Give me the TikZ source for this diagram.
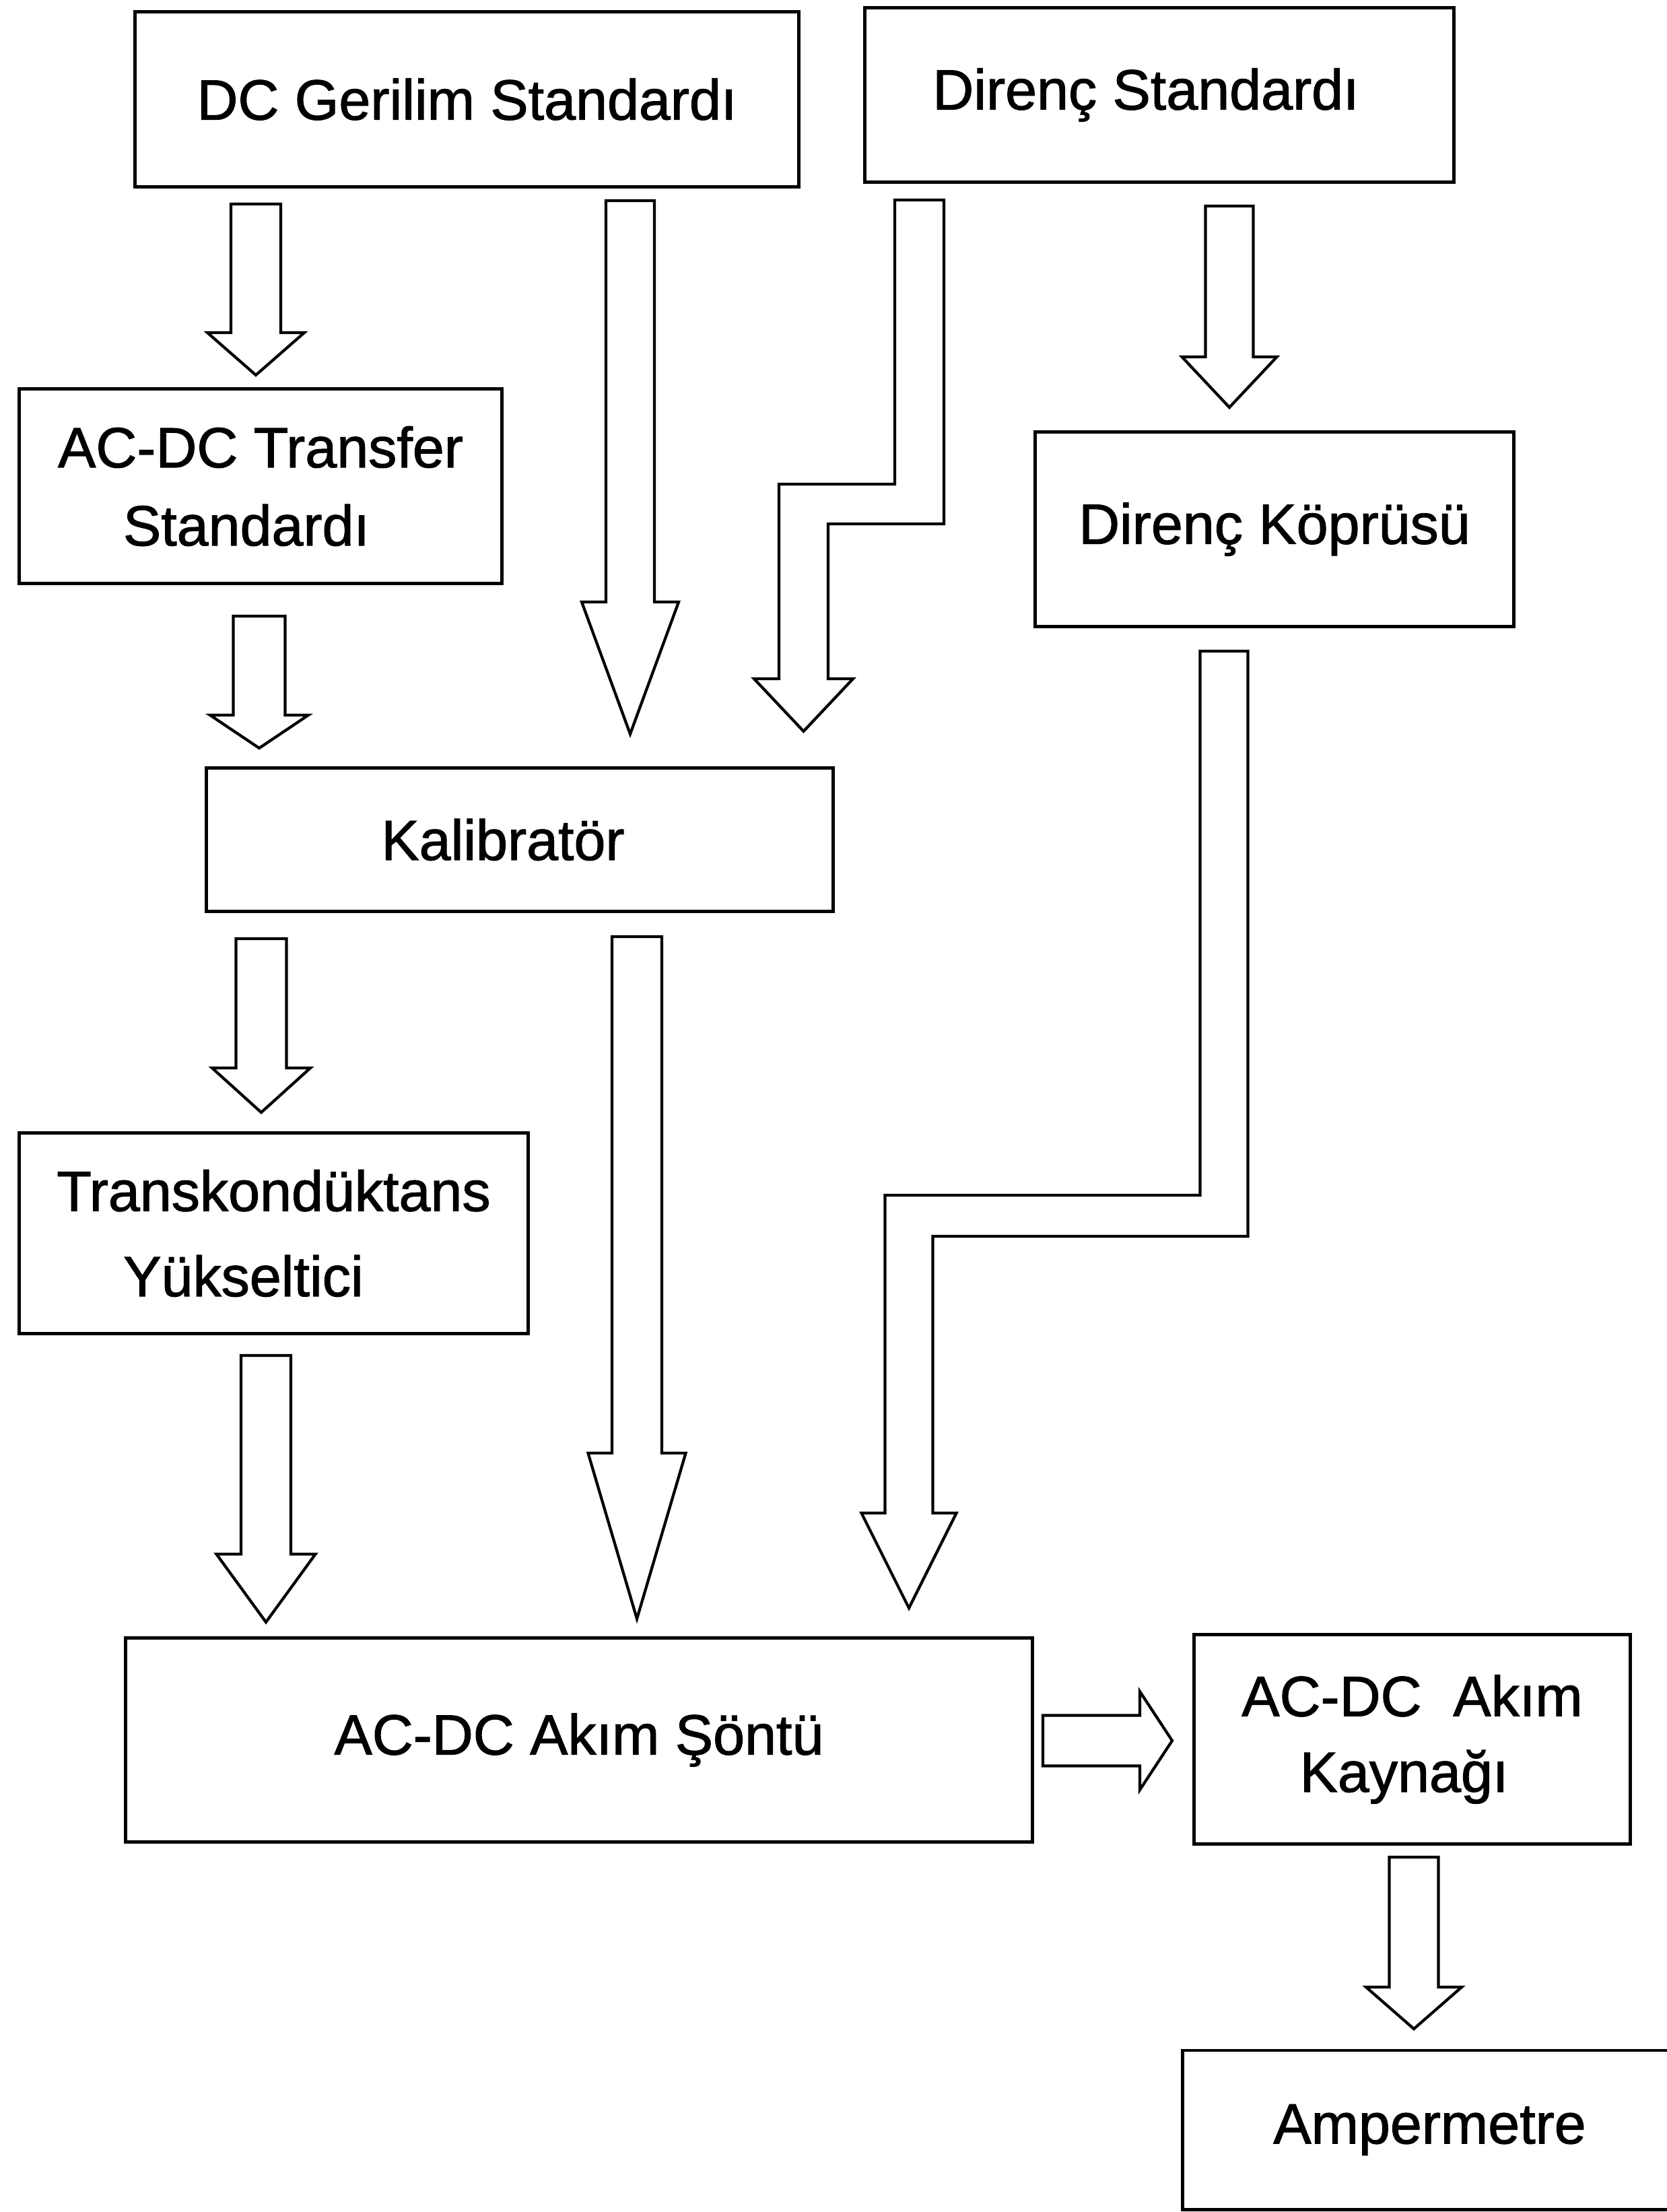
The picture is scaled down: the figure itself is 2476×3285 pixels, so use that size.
\documentclass[tikz,border=0pt]{standalone}
\usepackage{fontspec}
\setmainfont{Liberation Sans}[FakeBold=1.3]
\usetikzlibrary{calc}
\tikzset{
  box/.style={draw, line width=1.4pt, inner sep=0pt, align=center,
    font=\fontsize{24}{33}\selectfont},
  arr/.style={draw, line width=1.2pt, line join=miter, fill=white}
}
% straight block arrow pointing down: #1 start, #2 tip, #3 shaft half width, #4 head half width, #5 head length
\newcommand\blockdown[5]{%
  \draw[arr] let \p1=(#1), \p2=(#2) in
    (\x1-#3,\y1) -- (\x1+#3,\y1) -- (\x1+#3,\y2+#5) -- (\x1+#4,\y2+#5) -- (\x2,\y2)
    -- (\x1-#4,\y2+#5) -- (\x1-#3,\y2+#5) -- cycle;}
% stepped block arrow: #1 start, #2 jog, #3 tip, #4 shaft half width, #5 head half width, #6 head length, #7 jog half height
\newcommand\blockstep[7]{%
  \draw[arr] let \p1=(#1), \p2=(#2), \p3=(#3) in
    (\x1-#4,\y1) -- (\x1+#4,\y1) -- (\x1+#4,\y2-#7) -- (\x3+#4,\y2-#7)
    -- (\x3+#4,\y3+#6) -- (\x3+#5,\y3+#6) -- (\x3,\y3) -- (\x3-#5,\y3+#6)
    -- (\x3-#4,\y3+#6) -- (\x3-#4,\y2+#7) -- (\x1-#4,\y2+#7) -- cycle;}
% block arrow pointing right
\newcommand\blockright[5]{%
  \draw[arr] let \p1=(#1), \p2=(#2) in
    (\x1,\y1+#3) -- (\x2-#5,\y1+#3) -- (\x2-#5,\y1+#4) -- (\x2,\y1)
    -- (\x2-#5,\y1-#4) -- (\x2-#5,\y1-#3) -- (\x1,\y1-#3) -- cycle;}
\begin{document}
\begin{tikzpicture}[x=0.01cm, y=-0.01cm]
\useasboundingbox[fill=white] (0,0) rectangle (2476,3285);

% boxes
\node[box, minimum width=9.85cm, minimum height=2.59cm] (dc)  at (693.5,147.5) {DC Gerilim Standardı};
\node[box, minimum width=8.74cm, minimum height=2.58cm] (dir) at (1722,141) {Direnç Standardı\hspace*{0.4cm}};
\node[box, minimum width=7.16cm, minimum height=2.88cm] (tr)  at (387,722) {AC-DC Transfer\\Standardı\hspace*{0.42cm}};
\node[box, minimum width=7.10cm, minimum height=2.88cm] (kop) at (1893,786) {Direnç Köprüsü};
\node[box, minimum width=9.30cm, minimum height=2.12cm] (kal) at (772,1247) {Kalibratör\hspace*{0.5cm}};
\node[box, minimum width=7.55cm, minimum height=2.97cm, font=\fontsize{24}{36}\selectfont] (trk) at (406.5,1831.5) {Transkondüktans\\Yükseltici\hspace*{0.9cm}};
\node[box, minimum width=13.46cm, minimum height=3.02cm] (sont) at (860,2584) {AC-DC Akım Şöntü};
\node[box, minimum width=6.47cm, minimum height=3.10cm, font=\fontsize{24}{32}\selectfont] (kay) at (2097.5,2583) {AC-DC\ \ Akım\\Kaynağı\hspace*{0.24cm}};
\node[box, minimum width=7.33cm, minimum height=2.36cm] (amp) at (2123.5,3163) {Ampermetre};

% arrow end points
\coordinate (a1s) at (380,303);   \coordinate (a1e) at (380,557);
\coordinate (a2s) at (936,298);   \coordinate (a2e) at (936,1090);
\coordinate (a4s) at (1826,306);  \coordinate (a4e) at (1826,605);
\coordinate (a5s) at (385,915);   \coordinate (a5e) at (385,1111);
\coordinate (a6s) at (388,1394);  \coordinate (a6e) at (388,1652);
\coordinate (a7s) at (946,1391);  \coordinate (a7e) at (946,2404);
\coordinate (a9s) at (395,2013);  \coordinate (a9e) at (395,2409);
\coordinate (a11s) at (2100,2758); \coordinate (a11e) at (2100,3013);
\coordinate (z1s) at (1365.5,297); \coordinate (z1j) at (1365.5,748.5); \coordinate (z1e) at (1193.5,1086);
\coordinate (z2s) at (1818,967);   \coordinate (z2j) at (1818,1805.5);  \coordinate (z2e) at (1350,2388);
\coordinate (a10s) at (1549,2585); \coordinate (a10e) at (1741,2585);

% arrows
\blockdown{a1s}{a1e}{0.37cm}{0.72cm}{0.63cm}
\blockdown{a2s}{a2e}{0.36cm}{0.72cm}{1.96cm}
\blockdown{a4s}{a4e}{0.355cm}{0.705cm}{0.75cm}
\blockdown{a5s}{a5e}{0.385cm}{0.73cm}{0.49cm}
\blockdown{a6s}{a6e}{0.375cm}{0.73cm}{0.66cm}
\blockdown{a7s}{a7e}{0.37cm}{0.725cm}{2.46cm}
\blockdown{a9s}{a9e}{0.37cm}{0.735cm}{1.01cm}
\blockdown{a11s}{a11e}{0.365cm}{0.71cm}{0.62cm}
\blockstep{z1s}{z1j}{z1e}{0.365cm}{0.735cm}{0.78cm}{0.295cm}
\blockstep{z2s}{z2j}{z2e}{0.355cm}{0.705cm}{1.41cm}{0.305cm}
\blockright{a10s}{a10e}{0.375cm}{0.73cm}{0.48cm}
\end{tikzpicture}
\end{document}
